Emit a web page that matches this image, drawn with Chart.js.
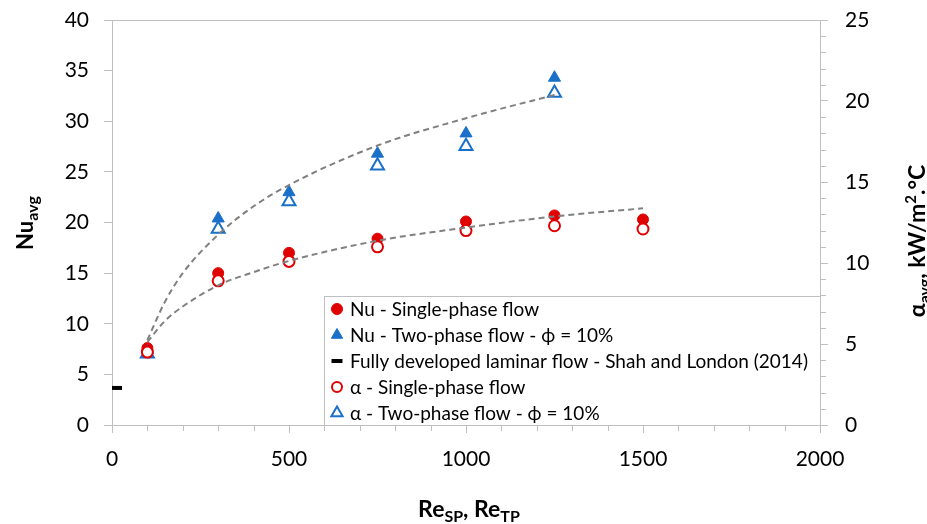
<!DOCTYPE html>
<html>
<head>
<meta charset="utf-8">
<script src="https://cdn.jsdelivr.net/npm/chart.js@4.4.1/dist/chart.umd.min.js"></script>
<style>
  html, body { margin: 0; padding: 0; background: #fff; }
  #wrap { width: 927px; height: 524px; }
</style>
</head>
<body>
<div id="wrap"><canvas id="nuChart"></canvas></div>
<script>
// Reynolds numbers of the test runs
const reSingle = [100, 300, 500, 750, 1000, 1250, 1500];
const reTwo = [100, 300, 500, 750, 1000, 1250];

// Nusselt number (left axis)
const nuSingle = [7.6, 15.0, 17.0, 18.4, 20.1, 20.7, 20.3];
const nuTwo = [7.4, 20.4, 23.0, 26.8, 28.8, 34.3];

// heat transfer coefficient, kW/m2.C (right axis)
const alphaSingle = [4.5, 8.9, 10.1, 11.0, 12.0, 12.3, 12.1];
const alphaTwo = [4.4, 12.1, 13.8, 16.0, 17.2, 20.5];

// Shah and London fully developed laminar value
const reLaminar = [10];
const nuLaminar = [3.66];

// dashed trend curves through the Nu points
const reTrendTwo = [100, 150, 200, 300, 400, 500, 750, 1000, 1250];
const nuTrendTwo = [8.4, 12.2, 15.0, 18.8, 21.6, 23.7, 27.6, 30.3, 32.6];
const reTrendSingle = [100, 150, 200, 300, 400, 500, 750, 1000, 1250, 1500];
const nuTrendSingle = [8.2, 10.3, 11.7, 13.8, 15.1, 16.2, 18.2, 19.5, 20.6, 21.4];

// tick labels
const xTicks = [0, 500, 1000, 1500, 2000];
const nuTicks = [0, 5, 10, 15, 20, 25, 30, 35, 40];
const alphaTicks = [0, 5, 10, 15, 20, 25];

const RED = '#e00000';
const BLUE = '#1a70c8';
const AXIS = '#bfbfbf';
const FONT = 'Lato, "Open Sans", sans-serif';

const pts = (xs, ys) => xs.map((x, i) => ({ x: x, y: ys[i] }));

// small markers for the legend box, same shapes as chart points
function marker(ctx, ds, x, y) {
  const r = ds.legendRadius || ds.pointRadius;
  ctx.save();
  ctx.fillStyle = ds.pointBackgroundColor;
  ctx.strokeStyle = ds.pointBorderColor;
  ctx.lineWidth = ds.pointBorderWidth;
  ctx.beginPath();
  if (ds.pointStyle === 'circle') {
    ctx.arc(x, y, r, 0, Math.PI * 2);
    ctx.fill();
    ctx.stroke();
  } else if (ds.pointStyle === 'triangle') {
    for (let k = 0; k < 3; k++) {
      const a = -Math.PI / 2 + k * 2 * Math.PI / 3;
      const px = x + Math.cos(a) * r, py = y + Math.sin(a) * r;
      k ? ctx.lineTo(px, py) : ctx.moveTo(px, py);
    }
    ctx.closePath();
    ctx.fill();
    ctx.stroke();
  } else {
    ctx.moveTo(x - r, y);
    ctx.lineTo(x + r, y);
    ctx.stroke();
  }
  ctx.restore();
}

// text with sub/superscripts: parts = [text, size, baseline shift]
function richText(ctx, parts, x, y, rotate) {
  ctx.save();
  ctx.translate(x, y);
  if (rotate) ctx.rotate(-Math.PI / 2);
  ctx.fillStyle = '#000';
  ctx.textBaseline = 'alphabetic';
  let w = 0;
  parts.forEach(p => { ctx.font = 'bold ' + p[1] + 'px ' + FONT; w += ctx.measureText(p[0]).width; });
  let cx = -w / 2;
  parts.forEach(p => {
    ctx.font = 'bold ' + p[1] + 'px ' + FONT;
    ctx.fillText(p[0], cx, p[2]);
    cx += ctx.measureText(p[0]).width;
  });
  ctx.restore();
}

const decorations = {
  id: 'decorations',
  beforeDatasetsDraw(chart) {
    const ctx = chart.ctx, a = chart.chartArea;
    const sx = chart.scales.x, sy2 = chart.scales.y2;
    ctx.save();
    ctx.strokeStyle = AXIS;
    ctx.lineWidth = 1;
    ctx.beginPath();
    // top edge of plot frame
    ctx.moveTo(a.left, a.top + 0.5);
    ctx.lineTo(a.right, a.top + 0.5);
    // minor ticks on x axis every 100
    for (let v = 0; v <= 2000; v += 100) {
      if (v % 500 === 0) continue;
      const px = Math.round(sx.getPixelForValue(v)) + 0.5;
      ctx.moveTo(px, a.bottom);
      ctx.lineTo(px, a.bottom + 6);
    }
    // minor ticks on right axis every 1
    for (let v = 0; v <= 25; v += 1) {
      if (v % 5 === 0) continue;
      const py = Math.round(sy2.getPixelForValue(v)) + 0.5;
      ctx.moveTo(a.right, py);
      ctx.lineTo(a.right + 6, py);
    }
    ctx.stroke();
    ctx.restore();
  },
  afterDraw(chart) {
    const ctx = chart.ctx, a = chart.chartArea;
    // legend box inside the plot, lower right
    const bx = 324, by = 296;
    ctx.save();
    ctx.fillStyle = '#fff';
    ctx.fillRect(bx, by, a.right - bx, a.bottom - by);
    ctx.strokeStyle = AXIS;
    ctx.lineWidth = 1;
    ctx.strokeRect(bx + 0.5, by + 0.5, a.right - bx, a.bottom - by);
    ctx.font = '19px ' + FONT;
    ctx.textBaseline = 'middle';
    let row = 0;
    chart.data.datasets.forEach(ds => {
      if (!ds.label) return;
      const y = 309 + row * 26;
      marker(ctx, ds, 337, y);
      ctx.fillStyle = '#000';
      ctx.fillText(ds.label, 350, y + 1);
      row++;
    });
    ctx.restore();

    // axis titles
    richText(ctx, [['Nu', 22, 0], ['avg', 16, 5]], 33, 223, true);
    richText(ctx, [['Re', 23, 0], ['SP', 16, 5], [', Re', 23, 0], ['TP', 16, 5]], 469, 517, false);
    richText(ctx, [['\u03b1', 23, 0], ['avg', 16, 5], [', kW/m', 23, 0], ['2', 15, -9], ['.\u00b0C', 23, 0]], 925, 241, true);
  }
};

function fixTicks(list) {
  return scale => { scale.ticks = list.map(v => ({ value: v })); };
}

// fixed axis box sizes so the plot area sits where it should
function fixWidth(w) {
  return s => { s.width = w; s.paddingTop = 0; s.paddingBottom = 0; };
}

const tickFont = { family: FONT, size: 21 };

const ctx = document.getElementById('nuChart').getContext('2d');
new Chart(ctx, {
  type: 'scatter',
  data: {
    datasets: [
      {
        label: 'Nu - Single-phase flow',
        data: pts(reSingle, nuSingle), yAxisID: 'y', order: 3,
        pointStyle: 'circle', pointRadius: 5.5, legendRadius: 5.5,
        pointBackgroundColor: RED, pointBorderColor: RED, pointBorderWidth: 1
      },
      {
        label: 'Nu - Two-phase flow - \u03d5 = 10%',
        data: pts(reTwo, nuTwo), yAxisID: 'y', order: 3,
        pointStyle: 'triangle', pointRadius: 7, legendRadius: 6.5,
        pointBackgroundColor: BLUE, pointBorderColor: BLUE, pointBorderWidth: 1
      },
      {
        label: 'Fully developed laminar flow - Shah and London (2014)',
        data: pts(reLaminar, nuLaminar), yAxisID: 'y', order: 3,
        pointStyle: 'line', pointRadius: 6.5, legendRadius: 5.5,
        pointBackgroundColor: '#000', pointBorderColor: '#000', pointBorderWidth: 4
      },
      {
        label: '\u03b1 - Single-phase flow',
        data: pts(reSingle, alphaSingle), yAxisID: 'y2', order: 2,
        pointStyle: 'circle', pointRadius: 5.5, legendRadius: 5,
        pointBackgroundColor: '#fff', pointBorderColor: RED, pointBorderWidth: 2
      },
      {
        label: '\u03b1 - Two-phase flow - \u03d5 = 10%',
        data: pts(reTwo, alphaTwo), yAxisID: 'y2', order: 2,
        pointStyle: 'triangle', pointRadius: 7.5, legendRadius: 6.5,
        pointBackgroundColor: '#fff', pointBorderColor: BLUE, pointBorderWidth: 2
      },
      {
        data: pts(reTrendTwo, nuTrendTwo), yAxisID: 'y', order: 1,
        showLine: true, pointRadius: 0, borderColor: '#808080', borderWidth: 2,
        borderDash: [6, 4], cubicInterpolationMode: 'monotone', fill: false
      },
      {
        data: pts(reTrendSingle, nuTrendSingle), yAxisID: 'y', order: 1,
        showLine: true, pointRadius: 0, borderColor: '#808080', borderWidth: 2,
        borderDash: [6, 4], cubicInterpolationMode: 'monotone', fill: false
      }
    ]
  },
  options: {
    responsive: true,
    maintainAspectRatio: false,
    animation: false,
    layout: { padding: { top: 20 } },
    plugins: { legend: { display: false }, tooltip: { enabled: false } },
    scales: {
      x: {
        type: 'linear', min: 0, max: 2000,
        afterBuildTicks: fixTicks(xTicks),
        afterFit: s => { s.height = 99; },
        border: { color: AXIS, width: 1 },
        grid: { drawOnChartArea: false, tickLength: 8, color: AXIS },
        ticks: { color: '#000', font: tickFont, padding: 14, maxRotation: 0, callback: v => String(v) }
      },
      y: {
        type: 'linear', position: 'left', min: 0, max: 40,
        afterBuildTicks: fixTicks(nuTicks),
        afterFit: fixWidth(112),
        border: { color: AXIS, width: 1 },
        grid: { drawOnChartArea: false, tickLength: 8, color: AXIS },
        ticks: { color: '#000', font: tickFont, padding: 15 }
      },
      y2: {
        type: 'linear', position: 'right', min: 0, max: 25,
        afterBuildTicks: fixTicks(alphaTicks),
        afterFit: fixWidth(107),
        border: { color: AXIS, width: 1 },
        grid: { drawOnChartArea: false, tickLength: 8, color: AXIS },
        ticks: { color: '#000', font: tickFont, padding: 17 }
      }
    }
  },
  plugins: [decorations]
});
</script>
</body>
</html>
